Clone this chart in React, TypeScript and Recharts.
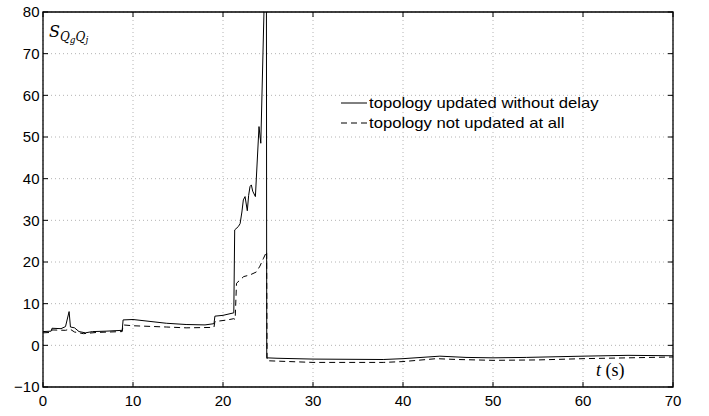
import React from 'react'
import { LineChart, Line, XAxis, YAxis, CartesianGrid, ReferenceLine, ReferenceArea } from 'recharts'

// time (s) and value of the series with immediate topology update
const solidT = [0, 0.9, 1.0, 2.0, 2.5, 2.9, 3.05, 3.5, 4.0, 4.7, 5.5, 7.0, 8.8, 8.9, 10.0, 13.7, 15.9, 18.0, 19.0, 19.1, 20.0, 21.2, 21.3, 21.7, 21.9, 22.1, 22.26, 22.45, 22.7, 22.85, 23.0, 23.15, 23.3, 23.6, 24.0, 24.2, 24.72, 24.82, 24.86, 26, 30, 37.8, 40, 44.1, 47, 50, 53.7, 60, 65, 70]
const solidV = [3.3, 3.4, 4.1, 4.0, 4.5, 8.1, 4.4, 4.2, 3.3, 3.0, 3.3, 3.4, 3.6, 6.1, 6.2, 5.3, 5.0, 4.9, 5.2, 7.0, 7.2, 7.8, 27.7, 28.5, 29.2, 32, 34.9, 35.7, 32.3, 36, 38.1, 38.5, 37.0, 35.7, 52.5, 48.5, 95, 95, -3.0, -3.1, -3.3, -3.4, -3.2, -2.6, -2.9, -3.0, -2.9, -2.6, -2.4, -2.5]

// series with topology not updated
const dashedT = [0, 0.9, 1.0, 2.5, 3.0, 3.5, 4.5, 6, 8.8, 8.9, 10, 13.7, 15.9, 18.9, 19.0, 19.1, 20.5, 21.2, 21.35, 21.5, 22.3, 23.0, 23.7, 24.1, 24.5, 24.85, 24.9, 30, 37.8, 40, 43.7, 46, 50, 55, 60, 70]
const dashedV = [3.0, 3.1, 3.7, 3.6, 3.9, 3.2, 2.8, 3.1, 3.3, 4.9, 4.7, 4.4, 4.2, 4.3, 4.4, 5.7, 6.1, 6.4, 6.2, 14.9, 16.5, 16.9, 17.6, 19.0, 20.9, 22.5, -3.7, -4.1, -4.1, -3.9, -3.2, -3.4, -3.6, -3.5, -3.2, -2.8]

const xTicks = [0, 10, 20, 30, 40, 50, 60, 70]
const yTicks = [-10, 0, 10, 20, 30, 40, 50, 60, 70, 80]
const seriesNames = ['topology updated without delay', 'topology not updated at all']

const solidData = solidT.map((t, i) => ({ t, v: solidV[i] }))
const dashedData = dashedT.map((t, i) => ({ t, v: dashedV[i] }))

const W = 709
const H = 416
const plotW = 630
const plotH = 375
const tickPx = 5
const tickLenX = (70 * tickPx) / plotW
const tickLenY = (90 * tickPx) / plotH

const tickFont = { fontSize: 15, fill: '#000', fontFamily: '"Liberation Sans", Arial, sans-serif' }
const dash = '6 4'

export default function App() {
  return (
    <div style={{ position: 'absolute', left: 0, top: 0, width: W, height: H, background: '#fff' }}>
      <LineChart width={W} height={H} margin={{ top: 12, right: 36, left: 0, bottom: 0 }}>
        <CartesianGrid stroke="#b4b4b4" strokeDasharray="1 3" />
        <XAxis
          type="number"
          dataKey="t"
          domain={[0, 70]}
          ticks={xTicks}
          allowDataOverflow
          axisLine={false}
          tickLine={false}
          tickSize={0}
          tickMargin={8.5}
          height={29}
          tick={tickFont}
        />
        <YAxis
          type="number"
          dataKey="v"
          domain={[-10, 80]}
          ticks={yTicks}
          allowDataOverflow
          axisLine={false}
          tickLine={false}
          tickSize={0}
          tickMargin={3.5}
          width={43}
          tick={tickFont}
          tickFormatter={(v: number) => (v < 0 ? '\u2212' + Math.abs(v) : String(v))}
        />
        <Line data={dashedData} dataKey="v" type="linear" stroke="#000" strokeWidth={1} strokeDasharray={dash} dot={false} isAnimationActive={false} />
        <Line data={solidData} dataKey="v" type="linear" stroke="#000" strokeWidth={1} dot={false} isAnimationActive={false} />
        {xTicks.map((x) => (
          <ReferenceLine key={'xb' + x} segment={[{ x, y: -10 }, { x, y: -10 + tickLenY }]} stroke="#000" />
        ))}
        {xTicks.map((x) => (
          <ReferenceLine key={'xt' + x} segment={[{ x, y: 80 }, { x, y: 80 - tickLenY }]} stroke="#000" />
        ))}
        {yTicks.map((y) => (
          <ReferenceLine key={'yl' + y} segment={[{ x: 0, y }, { x: tickLenX, y }]} stroke="#000" />
        ))}
        {yTicks.map((y) => (
          <ReferenceLine key={'yr' + y} segment={[{ x: 70, y }, { x: 70 - tickLenX, y }]} stroke="#000" />
        ))}
        <ReferenceArea x1={0} x2={70} y1={-10} y2={80} fill="none" stroke="#000" strokeWidth={1.3} />
      </LineChart>

      <div style={{ position: 'absolute', left: 49, top: 24, fontFamily: '"DejaVu Serif", "Liberation Serif", serif', fontStyle: 'italic', fontSize: 16, lineHeight: 1 }}>
        S
        <span style={{ fontSize: 12, position: 'relative', top: 4 }}>
          Q<span style={{ fontSize: 9, position: 'relative', top: 2 }}>g</span>Q
          <span style={{ fontSize: 9, position: 'relative', top: 2 }}>j</span>
        </span>
      </div>

      <div style={{ position: 'absolute', left: 596, top: 361, fontFamily: '"Liberation Serif", serif', fontSize: 18, lineHeight: 1 }}>
        <i>t</i> (s)
      </div>

      <div style={{ position: 'absolute', left: 341, top: 93, fontFamily: '"Liberation Sans", Arial, sans-serif', fontSize: 15, lineHeight: '20px' }}>
        {seriesNames.map((name, i) => (
          <div key={name} style={{ display: 'flex', alignItems: 'center' }}>
            <svg width={26} height={20} style={{ marginRight: 2 }}>
              <line x1={0} x2={26} y1={10} y2={10} stroke="#000" strokeWidth={1} strokeDasharray={i === 1 ? dash : undefined} />
            </svg>
            <span style={{ display: 'inline-block', transform: 'scaleX(1.11)', transformOrigin: 'left center', whiteSpace: 'nowrap' }}>{name}</span>
          </div>
        ))}
      </div>
    </div>
  )
}
